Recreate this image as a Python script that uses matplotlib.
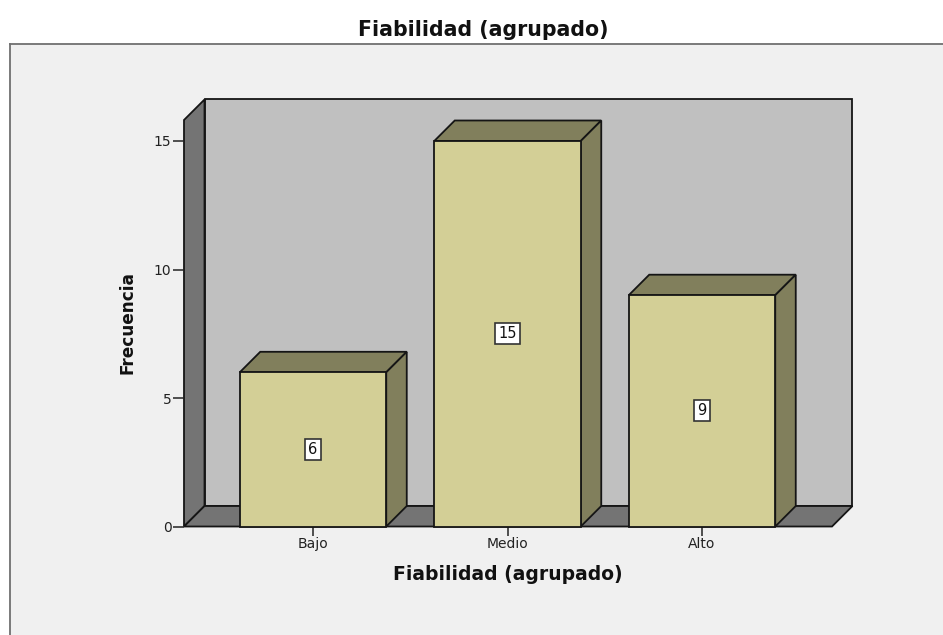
import matplotlib
matplotlib.use("Agg")
import matplotlib.pyplot as plt
from matplotlib.patches import Polygon, Rectangle

categories = ["Bajo", "Medio", "Alto"]
frequencies = [6, 15, 9]
y_ticks = [0, 5, 10, 15]
title_text = "Fiabilidad (agrupado)"
x_label_text = "Fiabilidad (agrupado)"
y_label_text = "Frecuencia"

W, H = 943, 635
plt.rcParams["font.family"] = ["DejaVu Sans"]
fig = plt.figure(figsize=(W / 100, H / 100), dpi=100, facecolor="white")

# grey panel
fig.patches.append(Rectangle((10 / W, 0), (W - 10) / W, (H - 44) / H, transform=fig.transFigure,
                             facecolor="#f0f0f0", edgecolor="none", zorder=-5))
for xs, ys in [((10, 10), (44, 635)), ((10, 943), (44, 44))]:
    fig.add_artist(plt.Line2D([x / W for x in xs], [1 - y / H for y in ys], color="#707070", lw=1.3))

L, R, B, T = 184, 832, 526.5, 120
ax = fig.add_axes([L / W, 1 - B / H, (R - L) / W, (B - T) / H])
px_x = 194.5
px_y = 25.7
ax.set_xlim((L - 313) / px_x, (R - 313) / px_x)
ax.set_ylim(0, (B - T) / px_y)
ax.patch.set_alpha(0)
for s in ax.spines.values():
    s.set_visible(False)

dx, dy = 20.5 / px_x, 20.5 / px_y
x0, x1 = ax.get_xlim()
y1 = ax.get_ylim()[1]
EDGE = "#151515"
LW = 1.3


def poly(pts, fc, z):
    ax.add_patch(Polygon(pts, closed=True, facecolor=fc, edgecolor=EDGE, lw=LW,
                         joinstyle="miter", clip_on=False, zorder=z))


poly([(x0 + dx, dy), (x1 + dx, dy), (x1 + dx, y1 + dy), (x0 + dx, y1 + dy)], "#c0c0c0", 1)
poly([(x0, 0), (x0 + dx, dy), (x0 + dx, y1 + dy), (x0, y1)], "#747474", 1.1)
poly([(x0, 0), (x1, 0), (x1 + dx, dy), (x0 + dx, dy)], "#747474", 1.1)

bar_w = 146.5 / px_x
for i, v in enumerate(frequencies):
    l, r = i - bar_w / 2, i + bar_w / 2
    poly([(l, v), (r, v), (r + dx, v + dy), (l + dx, v + dy)], "#817f5c", 2)
    poly([(r, 0), (r + dx, dy), (r + dx, v + dy), (r, v)], "#817f5c", 2)
    poly([(l, 0), (r, 0), (r, v), (l, v)], "#d3cf96", 2.1)
    ax.text(i, v / 2, str(v), ha="center", va="center", fontsize=10.5, color="#111111", zorder=3,
            bbox=dict(boxstyle="square,pad=0.2", facecolor="white", edgecolor="#333333", lw=1.2))

ax.set_xticks(range(len(categories)), categories)
ax.set_yticks(y_ticks)
ax.tick_params(axis="x", length=6.5, width=1.1, color="#222222", labelsize=10, labelcolor="#222222", pad=1)
ax.tick_params(axis="y", length=8, width=1.1, color="#222222", labelsize=10, labelcolor="#222222", pad=1)

fig.text(483 / W, 1 - 30 / H, title_text, ha="center", va="center", fontsize=14.8, fontweight="bold", color="#111111")
fig.text(507.5 / W, 1 - 575 / H, x_label_text, ha="center", va="center", fontsize=13.5, fontweight="bold", color="#111111")
fig.text(128 / W, 1 - 323 / H, y_label_text, ha="center", va="center", rotation=90, fontsize=12.2, fontweight="bold", color="#111111")

fig.savefig("out.png", dpi=100)
